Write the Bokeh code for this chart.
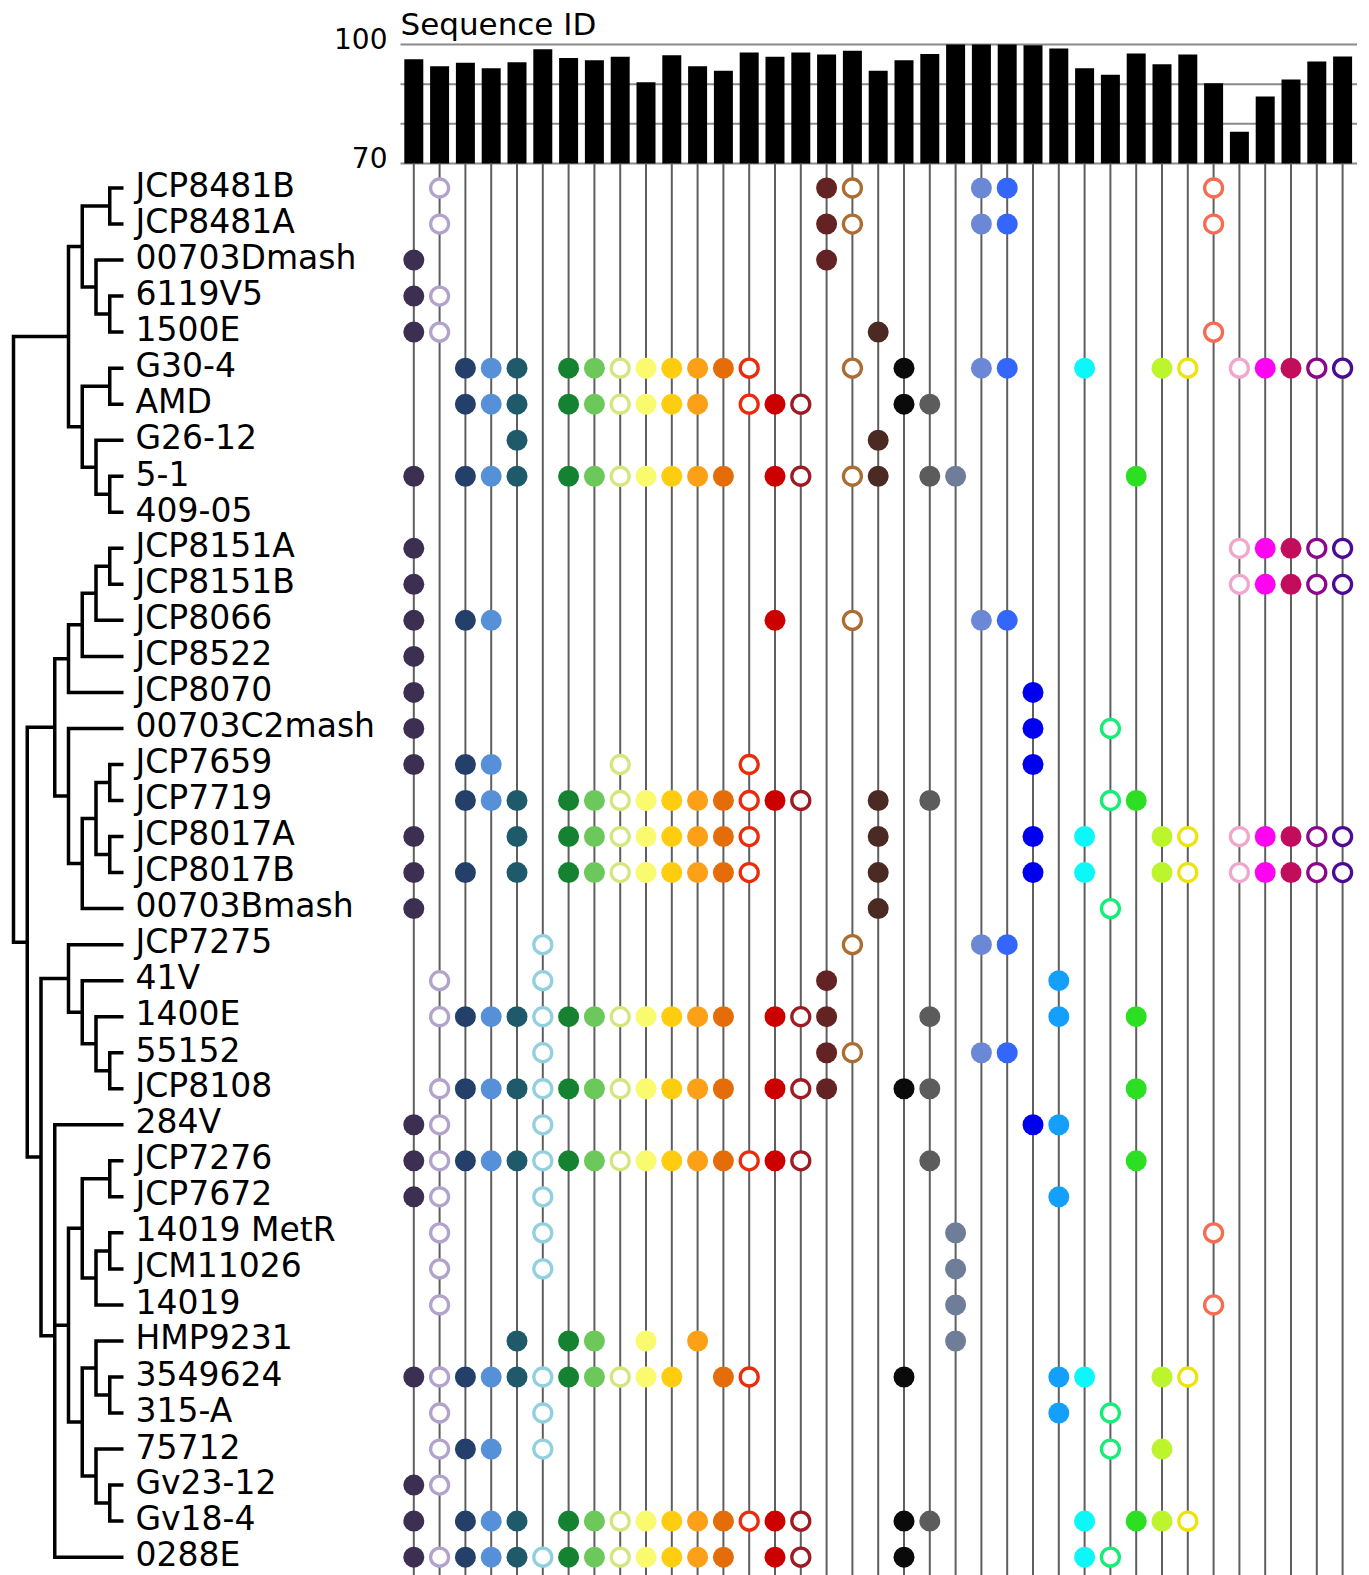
from bokeh.plotting import figure
from bokeh.models import Range1d
from bokeh.embed import file_html
from bokeh.resources import INLINE
from bokeh.core.properties import value

# ---------------- data ----------------
strains = ["JCP8481B", "JCP8481A", "00703Dmash", "6119V5", "1500E", "G30-4", "AMD",
           "G26-12", "5-1", "409-05",
           "JCP8151A", "JCP8151B", "JCP8066", "JCP8522", "JCP8070", "00703C2mash",
           "JCP7659", "JCP7719", "JCP8017A", "JCP8017B", "00703Bmash",
           "JCP7275", "41V", "1400E", "55152", "JCP8108",
           "284V", "JCP7276", "JCP7672", "14019 MetR", "JCM11026", "14019", "HMP9231",
           "3549624", "315-A", "75712", "Gv23-12", "Gv18-4", "0288E"]

# Sequence identity (%) of each of the 37 columns
seq_id = [96.3, 94.5, 95.4, 94.0, 95.5, 98.8, 96.6, 96.0, 96.9, 90.5, 97.3, 94.5, 93.4,
          98.0, 96.9, 98.0, 97.5, 98.4, 93.4, 96.0, 97.6, 100.0, 100.0, 100.0, 99.8,
          99.0, 94.0, 92.4, 97.7, 95.0, 97.5, 90.2, 78.0, 86.9, 91.2, 95.7, 97.0]

# y-axis ticks / gridlines of the bar chart
bar_ticks = [70, 80, 90, 100]
bar_tick_labels = {100: "100", 70: "70"}
bar_title = "Sequence ID"

# columns (1-based) present in each strain, same order as `strains`
presence = [
    [2, 17, 18, 23, 24, 32],
    [2, 17, 18, 23, 24, 32],
    [1, 17],
    [1, 2],
    [1, 2, 19, 32],
    [3, 4, 5, 7, 8, 9, 10, 11, 12, 13, 14, 18, 20, 23, 24, 27, 30, 31, 33, 34, 35, 36, 37],
    [3, 4, 5, 7, 8, 9, 10, 11, 12, 14, 15, 16, 20, 21],
    [5, 19],
    [1, 3, 4, 5, 7, 8, 9, 10, 11, 12, 13, 15, 16, 18, 19, 21, 22, 29],
    [],
    [1, 33, 34, 35, 36, 37],
    [1, 33, 34, 35, 36, 37],
    [1, 3, 4, 15, 18, 23, 24],
    [1],
    [1, 25],
    [1, 25, 28],
    [1, 3, 4, 9, 14, 25],
    [3, 4, 5, 7, 8, 9, 10, 11, 12, 13, 14, 15, 16, 19, 21, 28, 29],
    [1, 5, 7, 8, 9, 10, 11, 12, 13, 14, 19, 25, 27, 30, 31, 33, 34, 35, 36, 37],
    [1, 3, 5, 7, 8, 9, 10, 11, 12, 13, 14, 19, 25, 27, 30, 31, 33, 34, 35, 36, 37],
    [1, 19, 28],
    [6, 18, 23, 24],
    [2, 6, 17, 26],
    [2, 3, 4, 5, 6, 7, 8, 9, 10, 11, 12, 13, 15, 16, 17, 21, 26, 29],
    [6, 17, 18, 23, 24],
    [2, 3, 4, 5, 6, 7, 8, 9, 10, 11, 12, 13, 15, 16, 17, 20, 21, 29],
    [1, 2, 6, 25, 26],
    [1, 2, 3, 4, 5, 6, 7, 8, 9, 10, 11, 12, 13, 14, 15, 16, 21, 29],
    [1, 2, 6, 26],
    [2, 6, 22, 32],
    [2, 6, 22],
    [2, 22, 32],
    [5, 7, 8, 10, 12, 22],
    [1, 2, 3, 4, 5, 6, 7, 8, 9, 10, 11, 13, 14, 20, 26, 27, 30, 31],
    [2, 6, 26, 28],
    [2, 3, 4, 6, 28, 30],
    [1, 2],
    [1, 3, 4, 5, 7, 8, 9, 10, 11, 12, 13, 14, 15, 16, 20, 21, 27, 29, 30, 31],
    [1, 2, 3, 4, 5, 6, 7, 8, 9, 10, 11, 12, 13, 15, 16, 20, 27, 28],
]

# cladogram topology (nested tuples of strain names)
tree = (
    ((("JCP8481B", "JCP8481A"), ("00703Dmash", ("6119V5", "1500E"))),
     (("G30-4", "AMD"), ("G26-12", ("5-1", "409-05")))),
    (
        ((((("JCP8151A", "JCP8151B"), "JCP8066"), "JCP8522"), "JCP8070"),
         ("00703C2mash", ((("JCP7659", "JCP7719"), ("JCP8017A", "JCP8017B")), "00703Bmash"))),
        (("JCP7275", ("41V", ("1400E", ("55152", "JCP8108")))),
         ("284V",
          ((("JCP7276", "JCP7672"), (("14019 MetR", "JCM11026"), "14019")),
           (("HMP9231", ("3549624", "315-A")), ("75712", ("Gv23-12", "Gv18-4")))),
          "0288E")),
    ),
)

# ---------------- styles ----------------
col_colors = ["#3d2f52", "#b2a3cc", "#24406a", "#5690d8", "#1e5a6a", "#92cfdf", "#158232",
              "#6cc85a", "#d4e67e", "#fafa6e", "#fecd0f", "#fca017", "#e46d0a", "#ec2b0c",
              "#cd0000", "#9e1b24", "#632323", "#ab6d31", "#4c2a24", "#0a0a0a", "#5c5c5c",
              "#6e7e99", "#6b88d6", "#3466fb", "#0000ee", "#149ffa", "#0cf8f8", "#14ee78",
              "#2ddf22", "#bcf52b", "#ede40b", "#f86b53", "#efa7cc", "#fd05f0", "#c20d5c",
              "#8c078c", "#4c0b96"]
col_open = [False, True, False, False, False, True, False, False, True, False, False, False,
            False, True, False, True, False, True, False, False, False, False, False, False,
            False, False, False, True, False, False, True, True, True, False, False, True, True]

FONT = "DejaVu Sans"
ncol = len(seq_id)
cols = list(range(ncol))

# ---------------- geometry (page pixels) ----------------
W, H = 1357, 1575
COL0 = 413.3      # centre of first column
COLW = 25.8       # column pitch
MAT_L = 400       # left edge of the bar / matrix block
ROW0 = 187.5      # centre of first row
ROWH = 36.03      # row pitch
PX_PER_PCT = 119 / 30.0
Y70_PX = 163.0


def colx(px):
    return (px - COL0) / COLW


pct_bottom = 70 - (H - Y70_PX) / PX_PER_PCT
pct_top = 70 + Y70_PX / PX_PER_PCT
row_top = -ROW0 / ROWH
row_bot = (H - ROW0) / ROWH

p = figure(width=W, height=H, x_range=Range1d(colx(0), colx(W)),
           y_range=Range1d(row_bot, row_top),
           x_axis_type=None, y_axis_type=None, toolbar_location=None,
           output_backend="svg", min_border=0)
p.extra_y_ranges = {"pct": Range1d(pct_bottom, pct_top)}
p.extra_x_ranges = {"px": Range1d(0, W)}
p.outline_line_color = None
p.grid.visible = False

# ---------------- bar chart ----------------
p.segment(x0=[colx(MAT_L)] * len(bar_ticks), x1=[colx(W)] * len(bar_ticks),
          y0=bar_ticks, y1=bar_ticks, line_color="#8a8a8a", line_width=2,
          y_range_name="pct")
p.vbar(x=cols, top=seq_id, bottom=70, width=0.736, fill_color="black", line_color=None,
       y_range_name="pct")
p.text(x=[colx(MAT_L)], y=[100], text=[bar_title], y_offset=-21,
       text_baseline="middle", text_align="left", y_range_name="pct",
       text_font=value(FONT), text_font_size="31px", text_color="black")
tv = list(bar_tick_labels.keys())
p.text(x=[colx(MAT_L)] * len(tv), y=tv, text=[bar_tick_labels[t] for t in tv],
       x_offset=-13, y_offset=-6, text_baseline="middle", text_align="right",
       y_range_name="pct",
       text_font=value(FONT), text_font_size="28px", text_color="black")

# ---------------- column lines (matrix) ----------------
p.segment(x0=cols, y0=[70] * ncol, x1=cols, y1=[pct_bottom] * ncol,
          line_color="#5f5f5f", line_width=2, y_range_name="pct")

# ---------------- dendrogram + labels ----------------
LEAF_X = 123.0
STEP = 13.75
seg_x, seg_y = [], []


def lay(node):
    if isinstance(node, str):
        return LEAF_X, strains.index(node), 0
    kids = [lay(c) for c in node]
    level = max(k[2] for k in kids) + 1
    nx = LEAF_X - STEP * level
    ny = sum(k[1] for k in kids) / len(kids)
    a, b = kids[0], kids[-1]
    seg_x.append([a[0], nx, nx, b[0]])
    seg_y.append([a[1], a[1], b[1], b[1]])
    for k in kids[1:-1]:
        seg_x.append([nx, k[0]])
        seg_y.append([k[1], k[1]])
    return nx, ny, level


lay(tree)

p.multi_line(xs=seg_x, ys=seg_y, line_color="black", line_width=3.5,
             line_join="miter", line_cap="butt", x_range_name="px")
p.text(x=[LEAF_X] * len(strains), y=list(range(len(strains))), text=strains,
       x_offset=12, y_offset=-3, text_align="left", text_baseline="middle",
       x_range_name="px",
       text_font=value(FONT), text_font_size="33px", text_color="black")

# ---------------- presence matrix dots ----------------
fx, fy, fc, ox, oy, oc = [], [], [], [], [], []
for r, present in enumerate(presence):
    for c in present:
        if col_open[c - 1]:
            ox.append(c - 1); oy.append(r); oc.append(col_colors[c - 1])
        else:
            fx.append(c - 1); fy.append(r); fc.append(col_colors[c - 1])

p.scatter(x=fx, y=fy, marker="circle", size=21, fill_color=fc, line_color=None)
p.scatter(x=ox, y=oy, marker="circle", size=18, fill_color="white", line_color=oc,
          line_width=3.3)

open("out.html", "w").write(file_html(p, INLINE))
